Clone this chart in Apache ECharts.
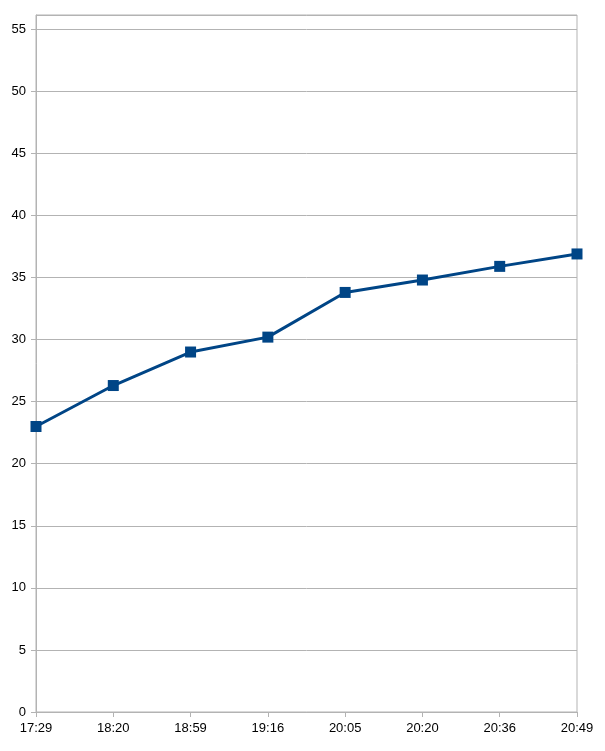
<!DOCTYPE html>
<html><head><meta charset="utf-8">
<script src="https://cdn.jsdelivr.net/npm/echarts@6/dist/echarts.min.js"></script>
<style>html,body{margin:0;padding:0;background:#fff}#c{width:605px;height:751px}</style>
</head><body><div id="c"></div>
<script>
const categories = ['17:29','18:20','18:59','19:16','20:05','20:20','20:36','20:49'];
const values = [23.0, 26.3, 29.0, 30.2, 33.8, 34.8, 35.9, 36.9];
const yMin = 0, yMax = 56.15, yInterval = 5;

const chart = echarts.init(document.getElementById('c'), null, {renderer:'canvas'});
const font = '"Liberation Sans", Arial, sans-serif';
chart.setOption({
  animation: false,
  backgroundColor: '#ffffff',
  grid: {left: 36, right: 28, top: 15, bottom: 39, show: true, borderColor: '#b3b3b3', borderWidth: 1},
  xAxis: {
    type: 'category', data: categories, boundaryGap: false,
    axisLine: {lineStyle: {color: '#b3b3b3'}},
    axisTick: {show: true, length: 5, alignWithLabel: true, lineStyle: {color: '#b3b3b3'}},
    axisLabel: {color: '#000', fontFamily: font, fontSize: 13, margin: 10, interval: 0},
    splitLine: {show: false}
  },
  yAxis: {
    type: 'value', min: yMin, max: yMax, interval: yInterval,
    axisLine: {show: true, lineStyle: {color: '#b3b3b3'}},
    axisTick: {show: true, length: 5, lineStyle: {color: '#b3b3b3'}},
    axisLabel: {color: '#000', fontFamily: font, fontSize: 13, margin: 10, showMaxLabel: false},
    splitLine: {show: true, lineStyle: {color: '#b3b3b3', width: 1}}
  },
  series: [{
    type: 'line', data: values,
    symbol: 'rect', symbolSize: 11,
    lineStyle: {color: '#004586', width: 3},
    itemStyle: {color: '#004586'}
  }]
});
</script></body></html>
